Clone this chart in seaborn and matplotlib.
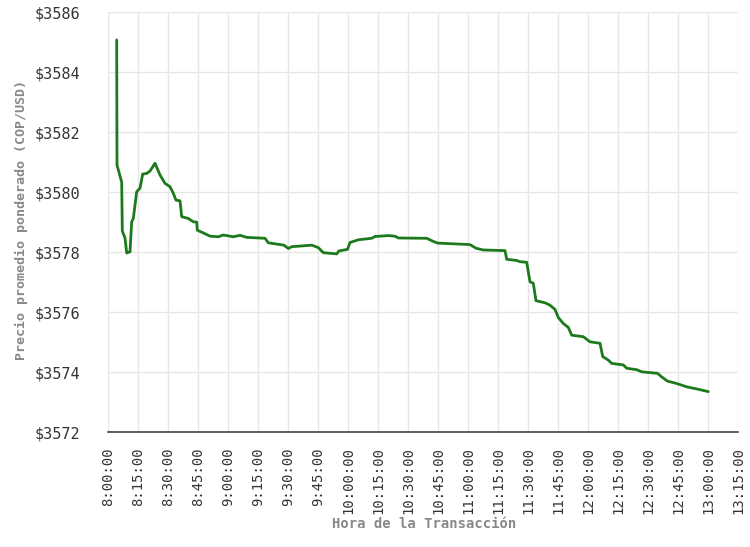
import pandas as pd
import numpy as np
import matplotlib
matplotlib.use('Agg')
import matplotlib.pyplot as plt
import matplotlib.dates as mdates
import seaborn as sns

# datos
horas = ['08:04:21', '08:04:30', '08:06:51', '08:07:09', '08:08:30', '08:09:21', '08:11:00',
         '08:11:51', '08:12:39', '08:14:21', '08:16:00', '08:17:21', '08:19:21', '08:21:00',
         '08:23:30', '08:26:00', '08:28:30', '08:31:00', '08:32:39', '08:34:00', '08:36:00',
         '08:36:51', '08:40:09', '08:42:39', '08:44:21', '08:44:39', '08:47:39', '08:51:00',
         '08:55:09', '08:57:39', '09:02:39', '09:06:00', '09:09:21', '09:18:30', '09:20:09',
         '09:28:00', '09:30:09', '09:31:51', '09:41:51', '09:45:09', '09:47:39', '09:54:21',
         '09:55:30', '09:59:45', '10:01:00', '10:05:09', '10:11:51', '10:13:30', '10:20:09',
         '10:23:30', '10:25:09', '10:39:21', '10:41:51', '10:44:45', '11:01:00', '11:04:00',
         '11:07:39', '11:18:30', '11:19:21', '11:24:21', '11:26:00', '11:29:21', '11:31:00',
         '11:32:39', '11:34:00', '11:38:30', '11:41:00', '11:43:30', '11:45:09', '11:47:39',
         '11:50:09', '11:51:51', '11:57:39', '12:01:00', '12:06:00', '12:07:21', '12:10:09',
         '12:11:51', '12:17:39', '12:19:21', '12:24:21', '12:26:51', '12:34:45', '12:36:51',
         '12:39:45', '12:44:21', '12:49:21', '12:55:00', '13:00:09']
precios = [3585.07, 3580.90, 3580.33, 3578.70, 3578.47, 3577.97, 3578.01,
           3579.01, 3579.12, 3580.01, 3580.13, 3580.60, 3580.62, 3580.70,
           3580.96, 3580.57, 3580.29, 3580.18, 3579.96, 3579.73, 3579.71,
           3579.18, 3579.12, 3579.01, 3579.00, 3578.73, 3578.64, 3578.53,
           3578.51, 3578.57, 3578.51, 3578.56, 3578.49, 3578.46, 3578.31,
           3578.23, 3578.12, 3578.18, 3578.23, 3578.15, 3577.98, 3577.94,
           3578.04, 3578.09, 3578.32, 3578.41, 3578.46, 3578.52, 3578.55,
           3578.53, 3578.47, 3578.46, 3578.38, 3578.30, 3578.25, 3578.13,
           3578.07, 3578.05, 3577.76, 3577.72, 3577.68, 3577.66, 3577.01,
           3576.96, 3576.38, 3576.31, 3576.23, 3576.09, 3575.82, 3575.62,
           3575.49, 3575.23, 3575.18, 3575.01, 3574.96, 3574.52, 3574.40,
           3574.29, 3574.24, 3574.13, 3574.08, 3574.01, 3573.96, 3573.84,
           3573.70, 3573.62, 3573.51, 3573.43, 3573.35]
y_ticks = [3572, 3574, 3576, 3578, 3580, 3582, 3584, 3586]

df = pd.DataFrame({
    'hora': pd.to_datetime('2024-01-01 ' + pd.Series(horas)),
    'precio': precios
})

sns.set_style('white')
plt.rcParams['font.family'] = ['DejaVu Sans Mono', 'DejaVu Sans']

fig = plt.figure(figsize=(7.5, 5.47), dpi=100)
ax = fig.add_axes([0.144, 0.210, 0.840, 0.768])

sns.lineplot(data=df, x='hora', y='precio', ax=ax, color='#1c7a1c', linewidth=2)

x0 = pd.Timestamp('2024-01-01 08:00:00')
x1 = pd.Timestamp('2024-01-01 13:15:00')
ax.set_xlim(x0, x1)
ax.set_ylim(3572, 3586)

ticks = pd.date_range(x0, x1, freq='15min')
ax.set_xticks(ticks)
ax.set_xticklabels([f'{t.hour}:{t.minute:02d}:00' for t in ticks], rotation=90, fontsize=10, color='#333333')
ax.set_yticks(y_ticks)
ax.set_yticklabels([f'${v}' for v in y_ticks], fontsize=11, color='#333333')

ax.grid(True, color='#e6e6e6', linewidth=1)
for s in ['top', 'right', 'left']:
    ax.spines[s].set_visible(False)
ax.spines['bottom'].set_color('#444444')
ax.spines['bottom'].set_linewidth(1.2)
ax.tick_params(axis='x', direction='out', length=7, width=1.2, color='#444444', pad=4)
ax.tick_params(axis='y', length=0, pad=20)

ax.set_xlabel('')
ax.set_ylabel('')
fig.text(0.565, 0.042, 'Hora de la Transacción', ha='center', va='center',
         fontsize=10, fontweight='bold', color='#888888')
fig.text(0.029, 0.597, 'Precio promedio ponderado (COP/USD)', ha='center', va='center',
         rotation=90, fontsize=9.6, fontweight='bold', color='#888888')

plt.savefig('out.png', dpi=100)
